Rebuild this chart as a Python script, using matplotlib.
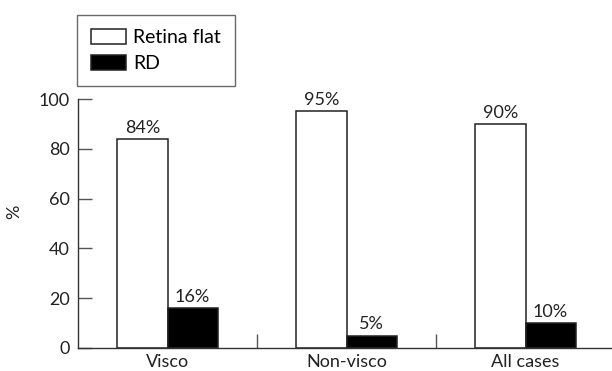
import matplotlib
matplotlib.use("Agg")
import matplotlib.pyplot as plt
import numpy as np

categories = ["Visco", "Non-visco", "All cases"]
retina_flat = [84, 95, 90]
rd = [16, 5, 10]
yticks = [0, 20, 40, 60, 80, 100]

plt.rcParams["font.family"] = ["Lato", "DejaVu Sans"]

fig = plt.figure(figsize=(6.12, 3.71), dpi=100)
ax = fig.add_axes([78 / 612, 1 - 348 / 371, 1 - 78 / 612, (348 - 99) / 371])

x = np.arange(len(categories))
w = 0.28
edge = "#222222"
b1 = ax.bar(x - w / 2, retina_flat, w, color="white", edgecolor=edge, linewidth=1.1,
            label="Retina flat")
b2 = ax.bar(x + w / 2, rd, w, color="black", edgecolor=edge, linewidth=1.1, label="RD")

for bars, vals in ((b1, retina_flat), (b2, rd)):
    for bar, v in zip(bars, vals):
        ax.text(bar.get_x() + bar.get_width() / 2, v + 1.3, f"{v}%",
                ha="center", va="bottom", fontsize=13, color="#222222")

ax.set_xlim(-0.5, (612 - 78) / 179 - 0.5)
ax.set_ylim(0, 100)
ax.set_yticks(yticks)
ax.set_xticks(x)
ax.set_xticklabels(categories)
ax.set_xticks([0.5, 1.5], minor=True)
ax.tick_params(axis="x", which="major", length=0, labelsize=13, pad=4, colors="#222222")
ax.tick_params(axis="x", which="minor", direction="in", length=10, width=1, color="#555555")
ax.tick_params(axis="y", direction="in", length=10, width=1, color="#555555",
               labelsize=13, pad=6, labelcolor="#222222")
ax.set_ylabel("%", fontsize=13, color="#222222")
ax.yaxis.set_label_coords(-0.105, 0.546)

for s in ("top", "right"):
    ax.spines[s].set_visible(False)
for s in ("left", "bottom"):
    ax.spines[s].set_color("#333333")
    ax.spines[s].set_linewidth(1)

leg = fig.legend(loc="upper left", bbox_to_anchor=(77 / 612, 1 - 15 / 371),
                 fancybox=False, edgecolor="#444444", fontsize=14,
                 handlelength=1.8, handleheight=0.85, handletextpad=0.4,
                 borderpad=0.7, labelspacing=0.45, borderaxespad=0)
leg.get_frame().set_linewidth(1)

fig.savefig("out.png", dpi=100)
